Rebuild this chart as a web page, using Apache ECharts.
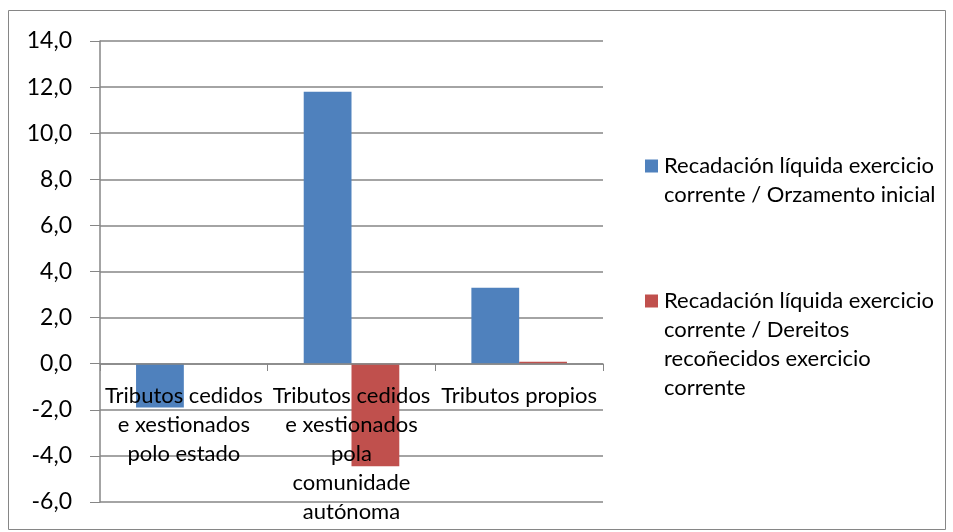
<!DOCTYPE html>
<html>
<head>
<meta charset="utf-8">
<script src="https://cdn.jsdelivr.net/npm/echarts@6/dist/echarts.min.js"></script>
<style>
  html, body { margin: 0; padding: 0; background: #fff; }
  #chart { width: 953px; height: 532px; }
</style>
</head>
<body>
<div id="chart"></div>
<script>
// Category labels (already wrapped into lines)
const categories = [
  'Tributos cedidos\ne xestionados\npolo estado',
  'Tributos cedidos\ne xestionados\npola\ncomunidade\nautónoma',
  'Tributos propios'
];

const seriesNames = [
  'Recadación líquida exercicio corrente / Orzamento inicial',
  'Recadación líquida exercicio corrente / Dereitos recoñecidos exercicio corrente'
];

// Legend text split into lines
const legendLines = [
  ['Recadación líquida exercicio', 'corrente / Orzamento inicial'],
  ['Recadación líquida exercicio', 'corrente / Dereitos', 'recoñecidos exercicio', 'corrente']
];

const orzamentoInicial = [-1.9, 11.8, 3.3];
const dereitosRecoñecidos = [0.0, -4.45, 0.08];

const yMin = -6, yMax = 14, yStep = 2;

const colors = ['#4F81BD', '#C0504D'];
const FONT = 'Lato';
const gray = '#868686';

const gridTop = 41, gridBottom = 30, chartH = 532;
const plotH = chartH - gridTop - gridBottom;
// shift the category axis up from the plot bottom to the zero line
const zeroOffset = -Math.round(plotH * (0 - yMin) / (yMax - yMin));

const chart = echarts.init(document.getElementById('chart'));

function legendFor(i, top) {
  return {
    data: [seriesNames[i]],
    left: 635,
    top: top,
    icon: 'none',
    itemWidth: 0,
    itemHeight: 0,
    selectedMode: false,
    formatter: function () {
      const lines = legendLines[i];
      return lines.map(function (l, k) {
        return (k === 0 ? '{sq' + i + '|}' : '{pad|}') + '{t|' + l + '}';
      }).join('\n');
    },
    textStyle: {
      rich: {
        sq0: { width: 13, height: 13, backgroundColor: colors[0] },
        sq1: { width: 13, height: 13, backgroundColor: colors[1] },
        pad: { width: 13, height: 13 },
        t: { fontFamily: FONT, fontSize: 22, color: '#000', lineHeight: 29, padding: [0, 0, 0, 6] }
      }
    }
  };
}

chart.setOption({
  animation: false,
  color: colors,
  graphic: [{
    type: 'rect',
    shape: { x: 8.5, y: 10.5, width: 937, height: 519 },
    style: { fill: 'none', stroke: gray, lineWidth: 1 },
    silent: true
  }],
  legend: [legendFor(0, 150), legendFor(1, 285)],
  grid: { left: 100, right: 350, top: gridTop, bottom: gridBottom, containLabel: false, outerBoundsMode: 'none' },
  xAxis: {
    type: 'category',
    data: categories,
    position: 'bottom',
    offset: zeroOffset,
    z: 10,
    axisLine: { onZero: false, lineStyle: { color: gray, width: 1.5 } },
    axisTick: { show: true, length: 7, inside: false, lineStyle: { color: gray } },
    axisLabel: {
      interval: 0,
      margin: 17,
      fontFamily: FONT,
      fontSize: 22,
      lineHeight: 29,
      color: '#000'
    },
    splitLine: { show: false }
  },
  yAxis: {
    type: 'value',
    min: yMin,
    max: yMax,
    interval: yStep,
    axisLine: { show: true, lineStyle: { color: gray, width: 1.5 } },
    axisTick: { show: true, length: 10, lineStyle: { color: gray } },
    axisLabel: {
      margin: 28,
      fontFamily: FONT,
      fontSize: 23,
      color: '#000',
      formatter: function (v) { return v.toFixed(1).replace('.', ','); }
    },
    splitLine: { show: true, lineStyle: { color: gray, width: 1.5 } }
  },
  series: [
    {
      name: seriesNames[0],
      type: 'bar',
      data: orzamentoInicial,
      barGap: '0%',
      barCategoryGap: '43%',
      itemStyle: { color: colors[0] }
    },
    {
      name: seriesNames[1],
      type: 'bar',
      data: dereitosRecoñecidos,
      itemStyle: { color: colors[1] }
    }
  ]
});
</script>
</body>
</html>
